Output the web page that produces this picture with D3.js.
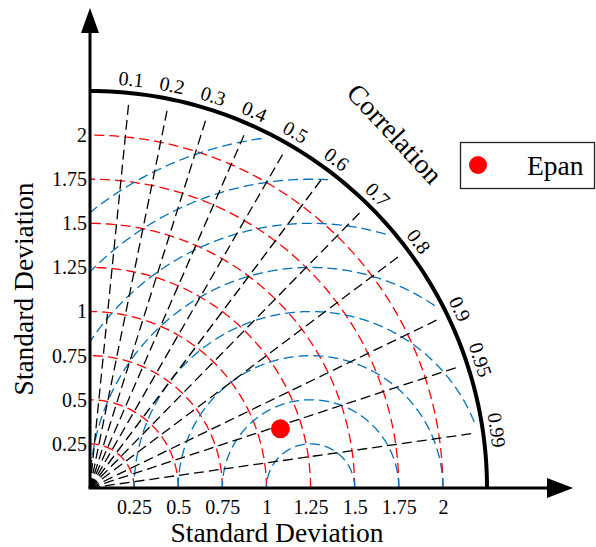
<!DOCTYPE html>
<html>
<head>
<meta charset="utf-8">
<script src="https://cdn.jsdelivr.net/npm/d3@7"></script>
<style>
  body { margin: 0; background: #fff; }
  text { font-family: "Liberation Serif", "Times New Roman", serif; fill: #000; }
</style>
</head>
<body>
<div id="taylor"></div>
<script>
const width = 596 // svg width
const height = 547 // svg height
const ox = 90 // origin of the diagram, x
const oy = 488 // origin of the diagram, y
const rPix = 397 // radius of the outer arc in pixels

// data
const corrTicks = [0.1, 0.2, 0.3, 0.4, 0.5, 0.6, 0.7, 0.8, 0.9, 0.95, 0.99] // correlation lines
const stdTicks = [0.25, 0.5, 0.75, 1, 1.25, 1.5, 1.75, 2] // standard deviation arcs
const rmsLevels = [0.25, 0.5, 0.75, 1, 1.25, 1.5, 1.75, 2] // centred RMS difference arcs
const stdMax = 2.25 // outer arc
const refStd = 1.25 // reference standard deviation
const modelNames = ["Epan"]
const modelStd = [1.13]
const modelCorr = [0.955]

// SCALES
const x = d3.scaleLinear().domain([0, stdMax]).range([ox, ox + rPix])
const y = d3.scaleLinear().domain([0, stdMax]).range([oy, oy - rPix])
const rad = d3.scaleLinear().domain([0, stdMax]).range([0, rPix]) // radius in pixels

const svg = d3.select("#taylor")
    .append("svg")
    .attr("width", width)
    .attr("height", height)

const g = svg.append("g").attr("transform", `translate(${ox},${oy})`) // polar group, origin at bottom left

// point on the diagram, from std (radius) and angle
const pt = (s, a) => [rad(s) * Math.cos(a), -rad(s) * Math.sin(a)]

// red dashed standard deviation arcs
const arcLine = d3.line()
g.append("g")
    .selectAll("path")
    .data(stdTicks)
    .join("path")
    .attr("d", (s) => arcLine(d3.range(0, 91).map((k) => pt(s, k * Math.PI / 180))))
    .attr("fill", "none")
    .attr("stroke", "#ff0000")
    .attr("stroke-width", 1.3)
    .attr("stroke-dasharray", "10,5")

// blue dashed RMS arcs, centred on the reference point and kept inside the quarter disc
const rmsLine = d3.line().defined((p) => p.ok).x((p) => p.px).y((p) => p.py)
const rmsPoints = (r) => d3.range(0, 721).map((k) => {
    const a = k * Math.PI / 720
    const sx = refStd + r * Math.cos(a)
    const sy = r * Math.sin(a)
    const ok = sx >= 0 && Math.hypot(sx, sy) <= stdMax - 0.04
    return { px: rad(sx), py: -rad(sy), ok: ok }
})
g.append("g")
    .selectAll("path")
    .data(rmsLevels)
    .join("path")
    .attr("d", (r) => rmsLine(rmsPoints(r)))
    .attr("fill", "none")
    .attr("stroke", "#0072bd")
    .attr("stroke-width", 1.3)
    .attr("stroke-dasharray", "10,5")

// black dashed correlation lines from the origin
g.append("g")
    .selectAll("line")
    .data(corrTicks)
    .join("line")
    .attr("x1", 0)
    .attr("y1", 0)
    .attr("x2", (c) => pt(2.2, Math.acos(c))[0])
    .attr("y2", (c) => pt(2.2, Math.acos(c))[1])
    .attr("stroke", "#000")
    .attr("stroke-width", 1.3)
    .attr("stroke-dasharray", "10,5")

// correlation labels, turned along the outer arc
g.append("g")
    .selectAll("text")
    .data(corrTicks)
    .join("text")
    .attr("transform", (c) => {
        const a = Math.acos(c)
        const p = pt(stdMax + 0.04, a)
        return `translate(${p[0]},${p[1]}) rotate(${90 - a * 180 / Math.PI})`
    })
    .attr("text-anchor", "middle")
    .attr("font-size", "20px")
    .text((c) => String(c))

// outer arc
g.append("path")
    .attr("d", arcLine(d3.range(0, 91).map((k) => pt(stdMax, k * Math.PI / 180))))
    .attr("fill", "none")
    .attr("stroke", "#000")
    .attr("stroke-width", 4)

// AXES
const xAxis = svg.append("g")
    .attr("transform", `translate(0,${oy})`)
    .call(d3.axisBottom(x).tickValues(stdTicks).tickSize(0).tickPadding(12).tickFormat((d) => String(d)))
xAxis.select(".domain").remove()
xAxis.selectAll("text").attr("font-size", "20px").attr("font-family", "Liberation Serif")

const yAxis = svg.append("g")
    .attr("transform", `translate(${ox},0)`)
    .call(d3.axisLeft(y).tickValues(stdTicks).tickSize(0).tickPadding(3).tickFormat((d) => String(d)))
yAxis.select(".domain").remove()
yAxis.selectAll("text").attr("font-size", "20px").attr("font-family", "Liberation Serif")

// axis lines with arrow heads
svg.append("line").attr("x1", ox).attr("y1", oy).attr("x2", ox).attr("y2", 30)
    .attr("stroke", "#000").attr("stroke-width", 3)
svg.append("line").attr("x1", ox - 1.5).attr("y1", oy).attr("x2", 550).attr("y2", oy)
    .attr("stroke", "#000").attr("stroke-width", 3)
svg.append("path").attr("d", `M${ox},8 L${ox - 9},33 L${ox + 9},33 Z`).attr("fill", "#000")
svg.append("path").attr("d", `M573,${oy} L547,${oy - 10} L547,${oy + 10} Z`).attr("fill", "#000")

// axis titles
svg.append("text")
    .attr("x", 277)
    .attr("y", 542)
    .attr("text-anchor", "middle")
    .attr("font-size", "27.5px")
    .text("Standard Deviation")

svg.append("text")
    .attr("transform", "translate(33,289) rotate(-90)")
    .attr("text-anchor", "middle")
    .attr("font-size", "27.5px")
    .text("Standard Deviation")

svg.append("text")
    .attr("transform", "translate(388,140) rotate(47)")
    .attr("text-anchor", "middle")
    .attr("font-size", "27.5px")
    .text("Correlation")

// model point
g.append("g")
    .selectAll("circle")
    .data(modelNames)
    .join("circle")
    .attr("cx", (d, i) => pt(modelStd[i], Math.acos(modelCorr[i]))[0])
    .attr("cy", (d, i) => pt(modelStd[i], Math.acos(modelCorr[i]))[1])
    .attr("r", 9.5)
    .attr("fill", "#ff0000")

// legend
const legend = svg.append("g").attr("transform", "translate(460,142)")
legend.append("rect")
    .attr("x", 0.5)
    .attr("y", 0.5)
    .attr("width", 134)
    .attr("height", 46)
    .attr("fill", "#fff")
    .attr("stroke", "#222")
    .attr("stroke-width", 1.3)
legend.selectAll("circle")
    .data(modelNames)
    .join("circle")
    .attr("cx", 18)
    .attr("cy", 23)
    .attr("r", 9)
    .attr("fill", "#ff0000")
legend.selectAll("text")
    .data(modelNames)
    .join("text")
    .attr("x", 67)
    .attr("y", 33)
    .attr("font-size", "27.5px")
    .text((d) => d)
</script>
</body>
</html>
